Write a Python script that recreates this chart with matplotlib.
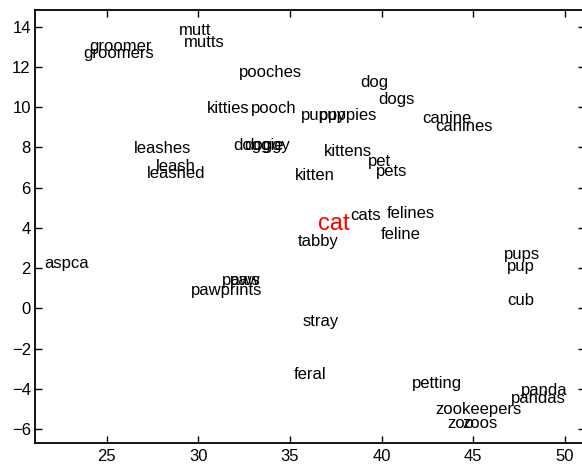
import matplotlib
matplotlib.use("Agg")
import matplotlib.pyplot as plt

plt.rcParams['font.family'] = ['Liberation Sans', 'DejaVu Sans']

# word positions in the 2-d embedding (left edge, middle)
words = ['groomer', 'groomers', 'mutt', 'mutts', 'pooches', 'kitties', 'pooch',
         'leashes', 'leash', 'leashed', 'doggie', 'doggy', 'dog', 'dogs',
         'puppy', 'puppies', 'canine', 'canines', 'kittens', 'pet', 'pets',
         'kitten', 'cats', 'felines', 'feline', 'tabby', 'pups', 'pup', 'cub',
         'stray', 'feral', 'petting', 'panda', 'pandas', 'zookeepers', 'zoo',
         'zoos', 'aspca', 'paws', 'paw', 'pawprints']
xs = [24.06, 23.72, 28.94, 29.23, 32.23, 30.49, 32.87,
      26.51, 27.66, 27.18, 31.91, 32.51, 38.82, 39.84,
      35.58, 36.58, 42.22, 42.91, 36.82, 39.24, 39.68,
      35.29, 38.31, 40.28, 39.96, 35.42, 46.69, 46.82, 46.86,
      35.69, 35.23, 41.64, 47.59, 47.04, 42.91, 43.58,
      44.42, 21.60, 31.27, 31.73, 29.58]
ys = [13.04, 12.65, 13.79, 13.21, 11.74, 9.93, 9.93,
      7.94, 7.04, 6.71, 8.09, 8.09, 11.24, 10.39,
      9.58, 9.58, 9.46, 9.03, 7.81, 7.29, 6.81,
      6.59, 4.59, 4.72, 3.69, 3.30, 2.69, 2.07, 0.41,
      -0.65, -3.30, -3.75, -4.08, -4.49, -5.01, -5.74,
      -5.74, 2.22, 1.37, 1.37, 0.88]

query = 'cat'
query_x = 36.51
query_y = 4.21

fig = plt.figure(figsize=(5.82, 4.65), dpi=100)
ax = fig.add_axes([35 / 582, 21.7 / 465, 550 / 582, 433.3 / 465])

for w, x, y in zip(words, xs, ys):
    ax.text(x, y, w, ha='left', va='center', fontsize=12, color='black')
ax.text(query_x, query_y, query, ha='left', va='center', fontsize=17, color='red')

ax.set_xlim(21.09, 51.09)
ax.set_ylim(-6.71, 14.83)
ax.set_xticks([25, 30, 35, 40, 45, 50])
ax.set_yticks(range(-6, 15, 2))
ax.tick_params(direction='in', length=5, width=1, top=True, right=True,
               labelsize=12)
ax.tick_params(axis='x', pad=4)
ax.tick_params(axis='y', pad=3)
for s in ax.spines.values():
    s.set_linewidth(1.3)

fig.savefig('out.png', dpi=100)
